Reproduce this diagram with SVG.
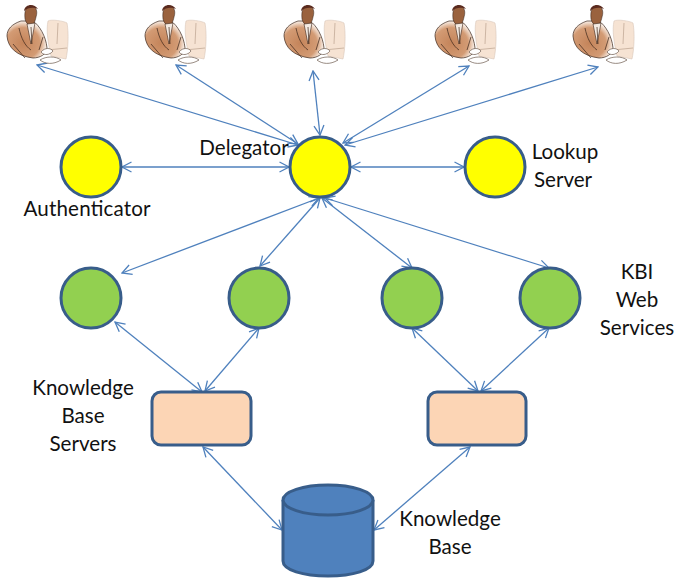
<svg xmlns="http://www.w3.org/2000/svg" width="676" height="580" viewBox="0 0 676 580">
<style>
text{font-family:"Lato","Open Sans","Liberation Sans",sans-serif;font-size:20.6px;fill:#111;text-anchor:middle}
.n{stroke:#385d8a;stroke-width:3}
.y{fill:#ff0}.g{fill:#92d050}.r{fill:#fcd5b5}.c{fill:#4f81bd}
.e{fill:none;stroke:#4f81bd;stroke-width:1.3;marker-start:url(#a);marker-end:url(#a)}
</style>
<defs>
<radialGradient id="b" cx=".4" cy=".6" r=".6"><stop offset="0" stop-color="#c4845a"/><stop offset=".7" stop-color="#d39b74"/><stop offset="1" stop-color="#fbf3ec"/></radialGradient>
<marker id="a" viewBox="-11 -6 12 12" markerWidth="12" markerHeight="12" refX="0" refY="0" orient="auto-start-reverse" markerUnits="userSpaceOnUse"><path d="M-9.5-5 0 0-9.500 5" fill="none" stroke="#4f81bd" stroke-width="1.3"/></marker>
<symbol id="u" viewBox="0 0 72 64" width="72" height="64">
<path d="M47 21C50 19 63 21 66 23C68 34 67 50 65 59L50 56C47 43 45 30 47 21Z" fill="#f6e3d3" stroke="#d8c6b8" stroke-width=".6"/>
<path d="M57 23 56 44M46 50 66 48" stroke="#c2a997" stroke-width=".8" fill="none"/>
<path d="M20 21C11 24 6 29 6 36C7 48 16 56 32 58C39 58 46 54 46 48C45 36 38 25 32 21Z" fill="url(#b)" stroke="#3a2418" stroke-width=".7"/>
<path d="M24 19C23 9 26 6 30 6C35 6 37 11 35 17C34 22 32 26 30 26C27 25 25 23 24 19Z" fill="#9a623e" stroke="#2c1a12" stroke-width=".5"/>
<path d="M23 11C24 4 33 3 37 9C33 7 27 7 23 11Z" fill="#5a2a1e"/>
<path d="M26 24 30 44 34 23Z" fill="#f4ebe3" stroke="#3a2418" stroke-width=".6"/>
<path d="M30 27 31 44M18 28C20 38 24 46 30 50M42 37 38 50M12 44 24 58" stroke="#3a2418" stroke-width=".7" fill="none"/>
<path d="M40 52C44 47 50 48 52 51C49 55 43 56 40 52ZM39 60C45 56 55 56 60 60C52 65 44 64 39 60Z" fill="#fff" stroke="#6d5a4e" stroke-width=".7"/>
</symbol>
</defs>
<g id="connectors">
<path class="e" d="M37 65 298 145"/>
<path class="e" d="M176 65 298 144"/>
<path class="e" d="M313 71 320 135"/>
<path class="e" d="M469 66 343 143"/>
<path class="e" d="M598 67 345 145"/>
<path class="e" d="M122 167H289"/>
<path class="e" d="M351 167H464"/>
<path class="e" d="M319 198 122 273"/>
<path class="e" d="M320 198 260 266"/>
<path class="e" d="M322 198 412 268"/>
<path class="e" d="M325 198 549 268"/>
<path class="e" d="M115 322 202 392"/>
<path class="e" d="M259 328 205 391"/>
<path class="e" d="M412 328 478 391"/>
<path class="e" d="M549 328 481 391"/>
<path class="e" d="M203 447 282 530"/>
<path class="e" d="M470 447 374 530"/>
</g>
<g id="user1"><use href="#u" x="1" y="0"/></g>
<g id="user2"><use href="#u" x="139" y="0"/></g>
<g id="user3"><use href="#u" x="278" y="0"/></g>
<g id="user4"><use href="#u" x="429" y="0"/></g>
<g id="user5"><use href="#u" x="567" y="0"/></g>
<g id="delegator"><circle class="n y" cx="320" cy="167" r="30"/><text x="244" y="155">Delegator</text></g>
<g id="authenticator"><circle class="n y" cx="91" cy="167" r="30"/><text x="87" y="216" textLength="127">Authenticator</text></g>
<g id="lookup"><circle class="n y" cx="495" cy="167" r="30"/><text x="565" y="159">Lookup</text><text x="563" y="187">Server</text></g>
<g id="ws1"><circle class="n g" cx="91" cy="298" r="30"/></g>
<g id="ws2"><circle class="n g" cx="259" cy="298" r="30"/></g>
<g id="ws3"><circle class="n g" cx="412" cy="298" r="30"/></g>
<g id="ws4"><circle class="n g" cx="550" cy="298" r="30"/></g>
<g id="ws-label"><text x="637" y="279">KBI</text><text x="637" y="307">Web</text><text x="637" y="335">Services</text></g>
<g id="kb1"><rect class="n r" x="152" y="392" width="99" height="53" rx="9"/></g>
<g id="kb2"><rect class="n r" x="428" y="392" width="98" height="53" rx="9"/></g>
<g id="kb-label"><text x="83" y="395">Knowledge</text><text x="83" y="423">Base</text><text x="83" y="451">Servers</text></g>
<g id="base"><path class="n c" d="M283 500V561C283 570 303 576 328 576S373 570 373 561V500"/><ellipse class="n c" cx="328" cy="500" rx="45" ry="15"/><text x="450" y="526">Knowledge</text><text x="450" y="554">Base</text></g>
</svg>
